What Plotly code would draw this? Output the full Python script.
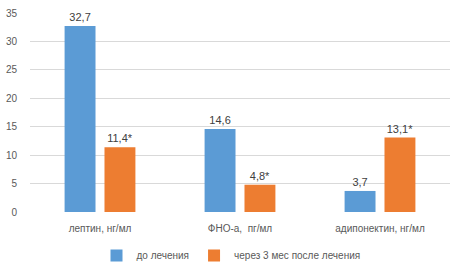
import plotly.graph_objects as go

categories = ["лептин, нг/мл", "ФНО-а,  пг/мл", "адипонектин, нг/мл"]
before = [32.7, 14.6, 3.7]
after = [11.4, 4.8, 13.1]
before_labels = ["32,7", "14,6", "3,7"]
after_labels = ["11,4*", "4,8*", "13,1*"]
series_names = ["до лечения", "через 3 мес после лечения"]
y_ticks = [0, 5, 10, 15, 20, 25, 30, 35]

font_family = "Liberation Sans, Arial, sans-serif"

fig = go.Figure()
fig.add_trace(go.Bar(x=categories, y=before, name=series_names[0],
                     marker=dict(color="#5B9BD5", line=dict(width=0)),
                     text=before_labels, textposition="outside",
                     textfont=dict(size=11, color="#404040"), cliponaxis=False))
fig.add_trace(go.Bar(x=categories, y=after, name=series_names[1],
                     marker=dict(color="#ED7D31", line=dict(width=0)),
                     text=after_labels, textposition="outside",
                     textfont=dict(size=11, color="#404040"), cliponaxis=False))

fig.update_layout(
    width=462, height=270,
    margin=dict(l=30, r=12, t=13, b=58, autoexpand=False),
    paper_bgcolor="white", plot_bgcolor="white",
    font=dict(family=font_family, size=10, color="#595959"),
    barmode="group", bargap=0.43, bargroupgap=0.225,
    showlegend=True,
    legend=dict(orientation="h", x=0.5, xanchor="center", xref="container",
                y=24, yanchor="middle", yref="container",
                font=dict(size=10, color="#595959"), itemwidth=30,
                traceorder="normal"),
    xaxis=dict(showgrid=False, showline=False, ticks="", automargin=False,
               ticklabelstandoff=9, tickfont=dict(size=10, color="#595959")),
    yaxis=dict(range=[0, 35], tickvals=y_ticks, showgrid=True, gridcolor="#D9D9D9",
               gridwidth=1, zeroline=False, showline=False, ticks="", automargin=False,
               ticklabelstandoff=12, tickfont=dict(size=10, color="#595959")),
)

fig.write_html("out.html", config={"displayModeBar": False},
               post_script="document.body.style.margin='0';document.body.style.overflow='hidden';")
